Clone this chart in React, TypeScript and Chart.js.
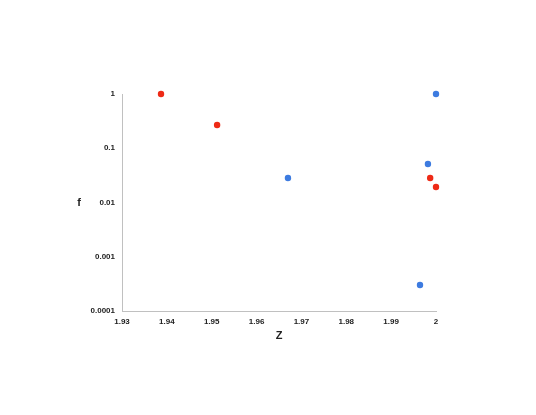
import React, { useEffect, useRef } from "react";
import { Chart, registerables } from "chart.js";

Chart.register(...registerables);

const seriesBlueZ = [2.0, 1.9982, 1.967, 1.99643];
const seriesBlueF = [1, 0.0513, 0.0283, 0.000302];
const seriesRedZ = [1.9387, 1.9512, 1.9987, 2.0];
const seriesRedF = [1, 0.268, 0.0283, 0.0193];
const yTicks = [0.0001, 0.001, 0.01, 0.1, 1];
const yTickLabels = ["0.0001", "0.001", "0.01", "0.1", "1"];
const xMin = 1.93;
const xMax = 2.0;
const xStep = 0.01;

const FONT = "'Liberation Sans', Arial, sans-serif";

export default function App() {
  const ref = useRef<HTMLCanvasElement | null>(null);
  useEffect(() => {
    if (!ref.current) return;
    const fLabel = {
      id: "fLabel",
      afterDraw(chart: any) {
        const ctx = chart.ctx;
        const area = chart.chartArea;
        ctx.save();
        ctx.font = `bold 11px ${FONT}`;
        ctx.fillStyle = "#222";
        ctx.textAlign = "center";
        ctx.textBaseline = "middle";
        ctx.fillText("f", 79, (area.top + area.bottom) / 2);
        ctx.restore();
      },
    };
    const chart = new Chart(ref.current, {
      type: "scatter",
      data: {
        datasets: [
          {
            label: "blue",
            data: seriesBlueZ.map((x, i) => ({ x, y: seriesBlueF[i] })),
            backgroundColor: "#3d7be0",
            borderWidth: 0,
            pointRadius: 3.2,
            clip: false,
          },
          {
            label: "red",
            data: seriesRedZ.map((x, i) => ({ x, y: seriesRedF[i] })),
            backgroundColor: "#ee2a16",
            borderWidth: 0,
            pointRadius: 3.2,
            clip: false,
          },
        ],
      },
      options: {
        responsive: false,
        animation: false,
        layout: { padding: { left: 0, right: 100, top: 94, bottom: 72 } },
        plugins: { legend: { display: false }, tooltip: { enabled: false } },
        scales: {
          x: {
            type: "linear",
            min: xMin,
            max: xMax,
            ticks: {
              stepSize: xStep,
              padding: 6,
              color: "#222",
              font: { family: FONT, size: 8, weight: "bold" },
              callback: (v: any) => String(Number(Number(v).toFixed(2))),
            },
            grid: { display: false, drawTicks: false },
            border: { display: true, color: "#c0c0c0", width: 1 },
            title: {
              display: true,
              text: "Z",
              color: "#222",
              font: { family: FONT, size: 11, weight: "bold" },
              padding: { top: 6, bottom: 0 },
            },
            afterFit: (s: any) => {
              s.height = 32;
            },
          },
          y: {
            type: "logarithmic",
            min: 0.0001,
            max: 1,
            afterBuildTicks: (s: any) => {
              s.ticks = yTicks.map((v) => ({ value: v }));
            },
            ticks: {
              padding: 7,
              color: "#222",
              font: { family: FONT, size: 8, weight: "bold" },
              callback: (v: any) => {
                const i = yTicks.indexOf(Number(v));
                return i >= 0 ? yTickLabels[i] : "";
              },
            },
            grid: { display: false, drawTicks: false },
            border: { display: true, color: "#c0c0c0", width: 1 },
            afterFit: (s: any) => {
              s.width = 122;
            },
          },
        },
      },
      plugins: [fLabel],
    } as any);
    return () => chart.destroy();
  }, []);
  return (
    <div style={{ position: "fixed", left: 0, top: 0, width: 536, height: 415, background: "#fff" }}>
      <canvas ref={ref} width={536} height={415} />
    </div>
  );
}
